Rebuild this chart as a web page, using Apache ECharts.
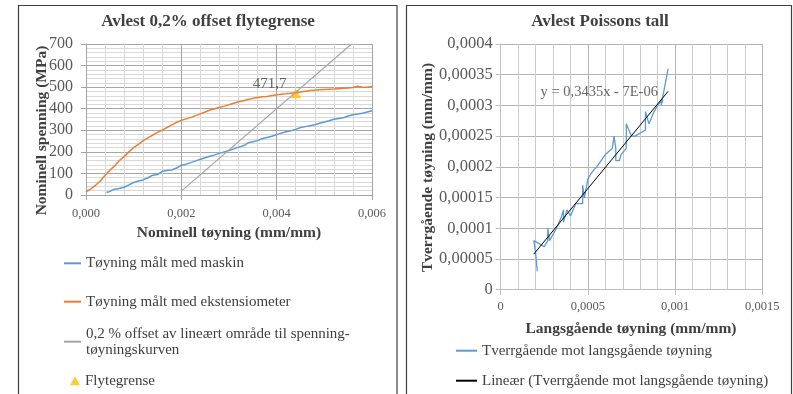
<!DOCTYPE html>
<html><head><meta charset="utf-8">
<script src="https://cdn.jsdelivr.net/npm/echarts@6/dist/echarts.min.js"></script>
<style>html,body{margin:0;padding:0;background:#fff}#c{width:793px;height:394px}</style>
</head><body><div id="c"></div>
<script>
// ---- Left chart data (strain mm/mm, stress MPa) ----
const machineCurve = [[0.00043,12],[0.00048,15],[0.0005,22],[0.0006,27],[0.0007,30],[0.0008,36],[0.0009,47],[0.001,58],[0.0011,65],[0.0012,70],[0.0013,80],[0.0014,92],[0.0015,95],[0.0016,110],[0.0017,114],[0.0018,116],[0.0019,125],[0.002,138],[0.0021,143],[0.0022,150],[0.0023,158],[0.0024,166],[0.0025,173],[0.0026,180],[0.0027,186],[0.0028,193],[0.0029,200],[0.003,206],[0.0031,214],[0.0032,222],[0.0033,228],[0.0034,242],[0.0035,247],[0.0036,252],[0.0037,262],[0.0038,267],[0.0039,272],[0.004,280],[0.0041,287],[0.0042,293],[0.0043,298],[0.0044,304],[0.0045,313],[0.0046,317],[0.0047,321],[0.0048,326],[0.0049,333],[0.005,338],[0.0051,344],[0.0052,351],[0.0053,355],[0.0054,358],[0.0055,366],[0.0056,372],[0.0057,375],[0.0058,379],[0.0059,385],[0.006,391]];
const extensometerCurve = [[0,15],[0.0001,28],[0.0002,45],[0.0003,65],[0.0004,92],[0.0005,115],[0.0006,135],[0.0007,160],[0.0008,178],[0.0009,200],[0.001,220],[0.0011,235],[0.0012,252],[0.0013,265],[0.0014,278],[0.0015,290],[0.0016,301],[0.0017,313],[0.0018,325],[0.0019,337],[0.002,346],[0.0021,353],[0.0022,360],[0.0023,368],[0.0024,376],[0.0025,385],[0.0026,394],[0.0027,400],[0.0028,407],[0.0029,412],[0.003,418],[0.0031,425],[0.0032,432],[0.0033,437],[0.0034,443],[0.0035,448],[0.0036,452],[0.0037,455],[0.0038,457],[0.0039,461],[0.004,465],[0.0041,467],[0.0042,469],[0.0043,472],[0.0044,474],[0.0045,477],[0.0046,481],[0.0047,484],[0.0048,486],[0.0049,488],[0.005,489],[0.0051,490],[0.0052,491],[0.0053,493],[0.0054,495],[0.0055,496],[0.0056,498],[0.0057,504],[0.0058,500],[0.0059,500],[0.006,503]];
const offsetLine = [[0.002,18],[0.00557,700]];
const yieldPoint = [0.0044, 471.7];
const leftXTicks = [0, 0.002, 0.004, 0.006];
const leftYTicks = [0, 100, 200, 300, 400, 500, 600, 700];

// ---- Right chart data (longitudinal vs transverse strain) ----
const poissonCurve = [[0.00021,0.00003],[0.0002,0.00006],[0.00019,0.00008],[0.00022,0.000075],[0.00025,0.00007],[0.00027,0.00008],[0.00027,0.0001],[0.00028,0.00008],[0.00029,0.00008],[0.00032,0.0001],[0.00035,0.00012],[0.00036,0.00013],[0.00036,0.00011],[0.00038,0.00013],[0.0004,0.00012],[0.00043,0.00014],[0.00047,0.00014],[0.00047,0.00017],[0.00048,0.00015],[0.0005,0.00018],[0.00052,0.00019],[0.00055,0.0002],[0.0006,0.00022],[0.00064,0.00023],[0.00065,0.00025],[0.00066,0.00023],[0.00066,0.00021],[0.00068,0.00021],[0.00069,0.00022],[0.00072,0.00023],[0.00072,0.00027],[0.00075,0.00025],[0.00077,0.00025],[0.00083,0.00026],[0.00083,0.00029],[0.00085,0.00027],[0.00088,0.00029],[0.0009,0.0003],[0.00093,0.00031],[0.00092,0.0003],[0.00096,0.00036]];
const trendLine = [[0.00019,0.000058],[0.00096,0.000323]];
const trendLabel = 'y = 0,3435x - 7E-06';
const trendLabelAt = [0.000565, 0.000321];
const rightXTicks = [0, 0.0005, 0.001, 0.0015];
const rightYTicks = [0, 0.00005, 0.0001, 0.00015, 0.0002, 0.00025, 0.0003, 0.00035, 0.0004];

const FF = '"Liberation Serif", serif';
const comma = v => v === 0 ? '0' : String(+v.toPrecision(4)).replace('.', ',');

const chart = echarts.init(document.getElementById('c'), null, {renderer: 'canvas'});
const tickStyle = (size) => ({fontFamily: FF, fontSize: size, color: '#595959'});
const legendText = {fontFamily: FF, fontSize: 15, color: '#404040', lineHeight: 16};

chart.setOption({
  animation: false,
  grid: [
    {left: 86, top: 44, width: 286, height: 151},
    {left: 500.7, top: 44, width: 261.6, height: 245.7}
  ],
  xAxis: [
    {gridIndex: 0, type: 'value', min: leftXTicks[0], max: leftXTicks[leftXTicks.length-1], interval: leftXTicks[1]-leftXTicks[0],
     axisLine: {show: true, lineStyle: {color: '#a6a6a6'}},
     axisTick: {show: true, length: 5, lineStyle: {color: '#a6a6a6'}},
     axisLabel: Object.assign({margin: 12, formatter: v => v.toFixed(3).replace('.', ',')}, tickStyle(12.5)),
     splitLine: {show: true, lineStyle: {color: '#a6a6a6', width: 1}},
     minorTick: {show: false, splitNumber: 5},
     minorSplitLine: {show: true, lineStyle: {color: '#d9d9d9', width: 1}}},
    {gridIndex: 1, type: 'value', min: rightXTicks[0], max: rightXTicks[rightXTicks.length-1], interval: 0.0005,
     axisLine: {show: true, lineStyle: {color: '#bfbfbf'}},
     axisTick: {show: true, length: 5, lineStyle: {color: '#bfbfbf'}},
     axisLabel: Object.assign({margin: 11, formatter: comma}, tickStyle(12.5)),
     splitLine: {show: true, lineStyle: {color: '#b3b3b3', width: 1}},
     minorTick: {show: false, splitNumber: 5},
     minorSplitLine: {show: true, lineStyle: {color: '#cccccc', width: 1}}}
  ],
  yAxis: [
    {gridIndex: 0, type: 'value', min: leftYTicks[0], max: leftYTicks[leftYTicks.length-1], interval: 100,
     axisLine: {show: true, lineStyle: {color: '#a6a6a6'}},
     axisTick: {show: true, length: 5, lineStyle: {color: '#a6a6a6'}},
     axisLabel: Object.assign({margin: 13, formatter: v => String(v)}, tickStyle(16)),
     splitLine: {show: true, lineStyle: {color: '#a6a6a6', width: 1}},
     minorTick: {show: false, splitNumber: 5},
     minorSplitLine: {show: true, lineStyle: {color: '#d9d9d9', width: 1}}},
    {gridIndex: 1, type: 'value', min: rightYTicks[0], max: rightYTicks[rightYTicks.length-1], interval: 0.00005,
     axisLine: {show: true, lineStyle: {color: '#bfbfbf'}},
     axisTick: {show: true, length: 5, lineStyle: {color: '#bfbfbf'}},
     axisLabel: Object.assign({margin: 8, formatter: comma}, tickStyle(16.5)),
     splitLine: {show: true, lineStyle: {color: '#b3b3b3', width: 1}}}
  ],
  legend: [
    {data: ['Tøyning målt med maskin'], left: 64, top: 255.3, padding: 0, itemWidth: 17, itemHeight: 2, icon: 'rect', textStyle: legendText},
    {data: ['Tøyning målt med ekstensiometer'], left: 64, top: 293.7, padding: 0, itemWidth: 17, itemHeight: 2, icon: 'rect', textStyle: legendText},
    {data: ['0,2 % offset av lineært område til spenning-tøyningskurven'], left: 64, top: 317.7, padding: 0, itemWidth: 17, itemHeight: 2, icon: 'rect',
     formatter: () => '0,2 % offset av lineært område til spenning-\ntøyningskurven',
     textStyle: Object.assign({}, legendText, {padding: [16, 0, 0, 0]})},
    {data: ['Flytegrense'], left: 70, top: 372.7, padding: 0, itemWidth: 10, itemHeight: 9, icon: 'triangle', textStyle: legendText},
    {data: ['Tverrgående mot langsgående tøyning'], left: 456, top: 342.7, padding: 0, itemWidth: 21, itemHeight: 2, icon: 'rect', textStyle: legendText},
    {data: ['Lineær (Tverrgående mot langsgående tøyning)'], left: 456, top: 372.7, padding: 0, itemWidth: 21, itemHeight: 2, icon: 'rect', textStyle: legendText}
  ],
  series: [
    {name: 'Tøyning målt med maskin', type: 'line', xAxisIndex: 0, yAxisIndex: 0, data: machineCurve, showSymbol: false, symbol: 'none',
     lineStyle: {color: '#5B9BD5', width: 1.5}, itemStyle: {color: '#5B9BD5'}},
    {name: 'Tøyning målt med ekstensiometer', type: 'line', xAxisIndex: 0, yAxisIndex: 0, data: extensometerCurve, showSymbol: false, symbol: 'none',
     lineStyle: {color: '#ED7D31', width: 1.5}, itemStyle: {color: '#ED7D31'}},
    {name: '0,2 % offset av lineært område til spenning-tøyningskurven', type: 'line', xAxisIndex: 0, yAxisIndex: 0, data: offsetLine, showSymbol: false, symbol: 'none',
     lineStyle: {color: '#A5A5A5', width: 1.2}, itemStyle: {color: '#A5A5A5'}},
    {name: 'Flytegrense', type: 'scatter', xAxisIndex: 0, yAxisIndex: 0, data: [yieldPoint], symbol: 'triangle', symbolSize: [11, 10],
     itemStyle: {color: '#FFC000'},
     label: {show: true, position: 'top', offset: [-26, 8], formatter: p => String(p.value[1]).replace('.', ','),
             fontFamily: FF, fontSize: 15, color: '#404040'}},
    {name: 'Tverrgående mot langsgående tøyning', type: 'line', xAxisIndex: 1, yAxisIndex: 1, data: poissonCurve, showSymbol: false, symbol: 'none',
     lineStyle: {color: '#5B9BD5', width: 1.3}, itemStyle: {color: '#5B9BD5'}},
    {name: 'Lineær (Tverrgående mot langsgående tøyning)', type: 'line', xAxisIndex: 1, yAxisIndex: 1, data: trendLine, showSymbol: false, symbol: 'none',
     lineStyle: {color: '#000000', width: 1}, itemStyle: {color: '#000000'}},
    {name: 'trendlabel', type: 'scatter', xAxisIndex: 1, yAxisIndex: 1, data: [trendLabelAt], symbolSize: 1, silent: true,
     itemStyle: {color: 'rgba(0,0,0,0)'},
     label: {show: true, position: 'inside', formatter: trendLabel, fontFamily: FF, fontSize: 14.5, color: '#404040'}}
  ],
  graphic: [
    {type: 'rect', shape: {x: 18.5, y: 5.5, width: 378.5, height: 400}, style: {fill: 'none', stroke: '#404040', lineWidth: 1.2}, silent: true},
    {type: 'rect', shape: {x: 406.5, y: 5.5, width: 385, height: 400}, style: {fill: 'none', stroke: '#404040', lineWidth: 1.2}, silent: true},
    {type: 'text', x: 208, y: 22, style: {text: 'Avlest 0,2% offset flytegrense', font: 'bold 17px ' + FF, fill: '#404040', align: 'center', verticalAlign: 'middle'}},
    {type: 'text', x: 600, y: 22, style: {text: 'Avlest Poissons tall', font: 'bold 17px ' + FF, fill: '#404040', align: 'center', verticalAlign: 'middle'}},
    {type: 'text', x: 42, y: 130.5, rotation: Math.PI/2, style: {text: 'Nominell spenning (MPa)', font: 'bold 15.5px ' + FF, fill: '#404040', align: 'center', verticalAlign: 'middle'}},
    {type: 'text', x: 229, y: 233, style: {text: 'Nominell tøyning (mm/mm)', font: 'bold 15.5px ' + FF, fill: '#404040', align: 'center', verticalAlign: 'middle'}},
    {type: 'text', x: 428, y: 167.5, rotation: Math.PI/2, style: {text: 'Tverrgående tøyning (mm/mm)', font: 'bold 15.5px ' + FF, fill: '#404040', align: 'center', verticalAlign: 'middle'}},
    {type: 'text', x: 631, y: 329, style: {text: 'Langsgående tøyning (mm/mm)', font: 'bold 15.5px ' + FF, fill: '#404040', align: 'center', verticalAlign: 'middle'}}
  ]
});
</script></body></html>
